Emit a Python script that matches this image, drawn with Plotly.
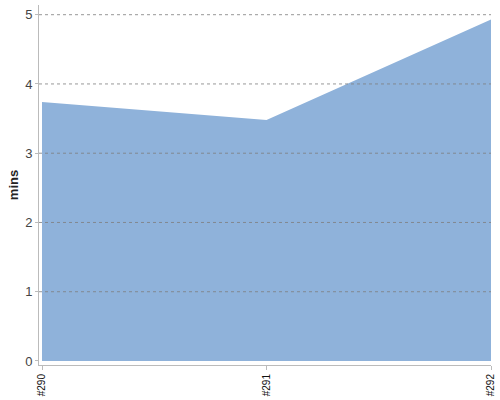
import plotly.graph_objects as go

# data
builds = ['#290', '#291', '#292']
mins = [3.74, 3.48, 4.93]
y_ticks = [0, 1, 2, 3, 4, 5]

fig = go.Figure()

fig.add_trace(go.Scatter(x=list(range(len(builds))),
                         y=mins,
                         mode='lines',
                         fill='tozeroy',
                         fillcolor='#8fb2da',
                         line={'color': '#8fb2da', 'width': 0},
                         hoverinfo='skip'))

# dotted gridlines drawn over the area, as in the original
for v in y_ticks[1:]:
    fig.add_hline(y=v, line_color='#7f7f7f', line_width=1,
                  line_dash='dot', layer='above', opacity=0.8)

fig.update_layout(width=500, height=400,
                  margin=dict(l=39, r=9, t=5, b=35),
                  paper_bgcolor='#ffffff',
                  plot_bgcolor='#ffffff',
                  showlegend=False,
                  font={'family': 'Liberation Sans, Arial, sans-serif',
                        'color': '#444444'},
                  xaxis=dict(
                      range=[-0.0134, 2],
                      automargin=False,
                      tickmode='array',
                      tickvals=list(range(len(builds))),
                      ticktext=builds,
                      tickangle=-90,
                      tickfont={'size': 10, 'color': '#111111'},
                      ticks='outside', ticklen=4, tickcolor='#bbbbbb',
                      showgrid=False,
                      zeroline=False,
                      showline=True, linecolor='#bbbbbb', linewidth=1),
                  yaxis=dict(
                      range=[-0.058, 5.14],
                      automargin=False,
                      tickmode='array',
                      tickvals=y_ticks,
                      tickfont={'size': 13, 'color': '#444444'},
                      ticks='outside', ticklen=3, tickcolor='#bbbbbb',
                      showgrid=False,
                      zeroline=False,
                      showline=True, linecolor='#bbbbbb', linewidth=1,
                      title=dict(text='<b>mins</b>', standoff=3,
                                 font={'size': 13, 'color': '#222222'})))

# the page has a default body margin; drop it so the chart sits at 0,0
fig.write_html('out.html', config={'displayModeBar': False},
               post_script="document.body.style.margin='0';")
